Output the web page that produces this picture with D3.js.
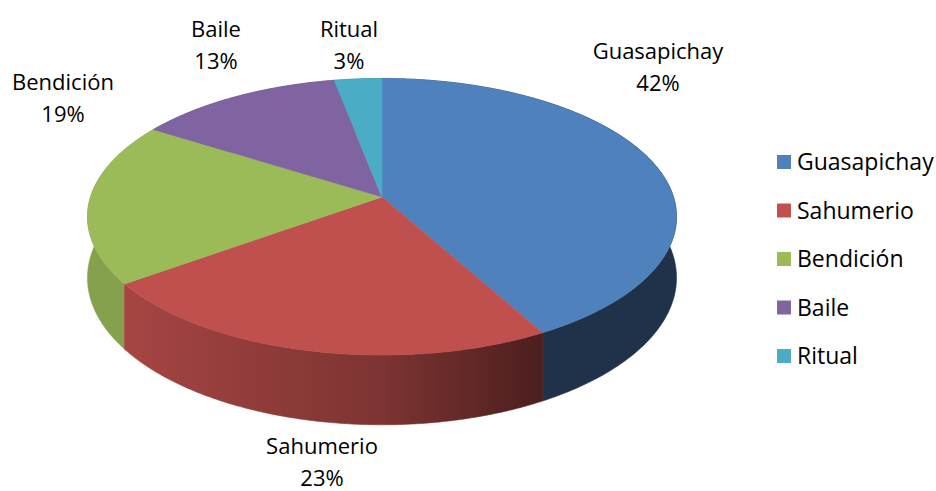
<!DOCTYPE html>
<html>
<head>
<meta charset="utf-8">
<script src="https://cdn.jsdelivr.net/npm/d3@7"></script>
<style>
  body { margin: 0; background: #fff; }
  svg { display: block; }
</style>
</head>
<body>
<script>
// DATA
const categories = ["Guasapichay", "Sahumerio", "Bendición", "Baile", "Ritual"];
const shares = [42, 23, 19, 13, 3];
const colors = ["#4f81bd", "#c0504d", "#9bbb59", "#8064a2", "#4bacc6"];
// where each data label block is centred (layout only)
const labelAnchors = [[658, 67], [322, 462], [63, 98], [216, 45], [349, 45]];

const width = 936;
const height = 491;

// 3D projection of the pie disk (perspective, camera looking down)
const cx = 382, cy = 197;
const tilt = 27.7 * Math.PI / 180;
const sinT = Math.sin(tilt), cosT = Math.cos(tilt);
const camDist = 7 * cosT;
const focal = 291.5 * camDist;
const thickness = 0.205; // rim height, dropped straight down on screen

function project(a, r, drop) {
  const u = r * Math.sin(a);
  const v = -r * Math.cos(a);
  const zc = camDist - v * cosT;
  const k = focal / zc;
  return [cx + k * u, cy + k * (v * sinT + (drop || 0))];
}

// side shading: light from the left, darker to the right
function shadeFactor(a) {
  const u = Math.sin(a);
  return u > 0 ? Math.max(0.39, 0.65 - 0.55 * u) : Math.min(0.86, 0.65 - 0.27 * u);
}
function shade(color, a) {
  const f = shadeFactor(a);
  const c = d3.rgb(color);
  return d3.rgb(c.r * f, c.g * f, c.b * f).formatHex();
}

const svg = d3.select("body")
  .append("svg")
  .attr("width", width)
  .attr("height", height)
  .attr("viewBox", `0 0 ${width} ${height}`);

const defs = svg.append("defs");
const arcs = d3.pie().sort(null).value(d => d)(shares);
const line = d3.line();
const step = Math.PI / 360;

// one horizontal gradient per colour, sampled along the front of the rim
const gx0 = project(Math.PI * 1.5, 1)[0] - 10;
const gx1 = project(Math.PI * 0.5, 1)[0] + 10;
colors.forEach((col, i) => {
  const g = defs.append("linearGradient")
    .attr("id", `side-${i}`)
    .attr("gradientUnits", "userSpaceOnUse")
    .attr("x1", gx0).attr("x2", gx1)
    .attr("y1", 0).attr("y2", 0);
  const stops = d3.range(0, 181, 5).map(k => {
    const a = Math.PI * 1.5 - k * Math.PI / 180;
    const x = project(a, 1)[0];
    return { off: (x - gx0) / (gx1 - gx0), c: shade(col, a) };
  });
  g.selectAll("stop")
    .data(stops)
    .enter()
    .append("stop")
    .attr("offset", s => Math.max(0, Math.min(1, s.off)))
    .attr("stop-color", s => s.c);
});

// -----------------------------------------------------------------------------
// SIDE WALLS
// -----------------------------------------------------------------------------
function wallPath(d) {
  const n = Math.max(2, Math.ceil((d.endAngle - d.startAngle) / step));
  const top = [], bottom = [];
  for (let k = 0; k <= n; k++) {
    const a = d.startAngle + (d.endAngle - d.startAngle) * k / n;
    top.push(project(a, 1));
    bottom.push(project(a, 1, thickness));
  }
  return line(top.concat(bottom.reverse())) + "Z";
}

const wallOrder = arcs
  .map((d, i) => ({ d, i, v: -Math.cos((d.startAngle + d.endAngle) / 2) }))
  .sort((a, b) => a.v - b.v);

svg.append("g")
  .attr("class", "walls")
  .selectAll("path")
  .data(wallOrder)
  .enter()
  .append("path")
  .attr("d", w => wallPath(w.d))
  .attr("fill", w => `url(#side-${w.i})`)
  .attr("stroke", w => `url(#side-${w.i})`)
  .attr("stroke-width", 0.6);

// -----------------------------------------------------------------------------
// TOP FACES
// -----------------------------------------------------------------------------
function topPath(d) {
  const pts = [project(0, 0)];
  const n = Math.max(2, Math.ceil((d.endAngle - d.startAngle) / step));
  for (let k = 0; k <= n; k++) {
    pts.push(project(d.startAngle + (d.endAngle - d.startAngle) * k / n, 1));
  }
  return line(pts) + "Z";
}

svg.append("g")
  .attr("class", "tops")
  .selectAll("path")
  .data(arcs)
  .enter()
  .append("path")
  .attr("d", topPath)
  .attr("fill", (d, i) => colors[i])
  .attr("stroke", (d, i) => colors[i])
  .attr("stroke-width", 0.5);

// -----------------------------------------------------------------------------
// DATA LABELS
// -----------------------------------------------------------------------------
const fontFamily = "'Open Sans', 'Noto Sans', sans-serif";
const total = d3.sum(shares);

const labels = svg.append("g")
  .attr("class", "labels")
  .selectAll("text")
  .data(arcs)
  .enter()
  .append("text")
  .attr("text-anchor", "middle")
  .attr("font-family", fontFamily)
  .attr("font-size", 22)
  .attr("fill", "#000");

labels.append("tspan")
  .attr("x", (d, i) => labelAnchors[i][0])
  .attr("y", (d, i) => labelAnchors[i][1] - 8)
  .text((d, i) => categories[i]);

labels.append("tspan")
  .attr("x", (d, i) => labelAnchors[i][0])
  .attr("y", (d, i) => labelAnchors[i][1] + 24)
  .text(d => `${Math.round(d.value / total * 100)}%`);

// -----------------------------------------------------------------------------
// LEGEND
// -----------------------------------------------------------------------------
const legend = svg.append("g")
  .attr("class", "legend")
  .selectAll("g")
  .data(categories)
  .enter()
  .append("g")
  .attr("transform", (d, i) => `translate(777, ${162 + i * 48.5})`);

legend.append("rect")
  .attr("x", 0)
  .attr("y", -7)
  .attr("width", 14)
  .attr("height", 14)
  .attr("fill", (d, i) => colors[i]);

legend.append("text")
  .attr("x", 20)
  .attr("y", 8)
  .attr("font-family", fontFamily)
  .attr("font-size", 23)
  .attr("fill", "#000")
  .text(d => d);
</script>
</body>
</html>
